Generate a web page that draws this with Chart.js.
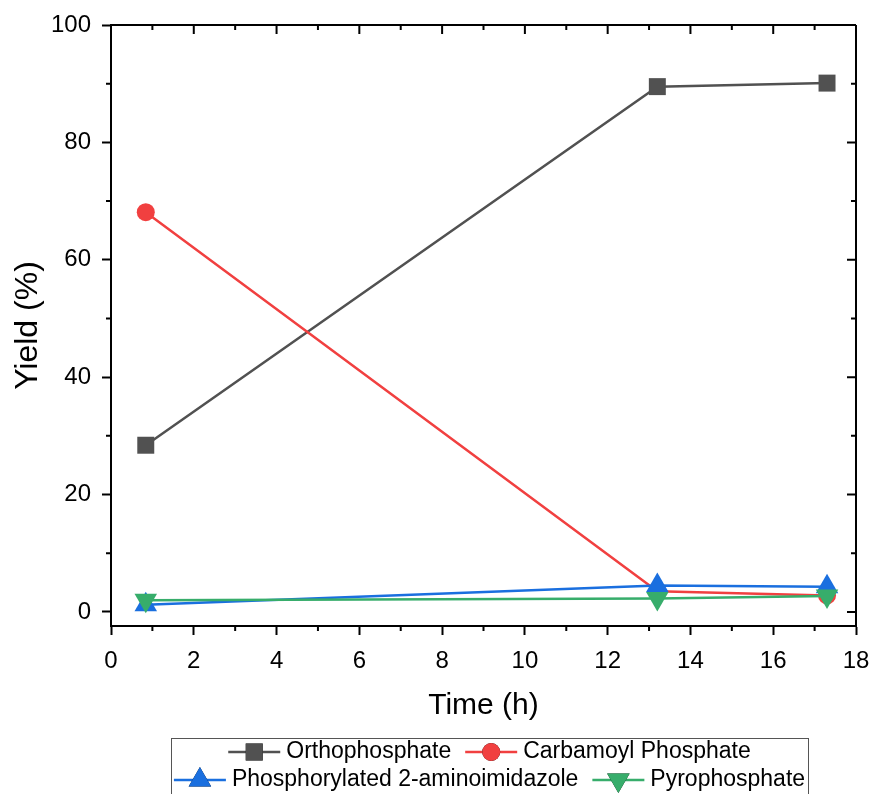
<!DOCTYPE html>
<html>
<head>
<meta charset="utf-8">
<script src="https://cdn.jsdelivr.net/npm/chart.js@4.4.1/dist/chart.umd.min.js"></script>
<style>
  html, body { margin: 0; padding: 0; background: #fff; }
  #wrap { width: 875px; height: 794px; position: relative; }
</style>
</head>
<body>
<div id="wrap"><canvas id="chart" width="875" height="794"></canvas></div>
<script>
// values
const timeH = [0.84, 13.2, 17.3];
const orthophosphate = [28.4, 89.5, 90.1];
const carbamoylPhosphate = [68.1, 3.5, 2.8];
const phosphorylatedAmi = [1.2, 4.5, 4.3];
const pyrophosphate = [2.0, 2.3, 2.7];

const seriesNames = ['Orthophosphate', 'Carbamoyl Phosphate', 'Phosphorylated 2-aminoimidazole', 'Pyrophosphate'];
const xTicks = [0, 2, 4, 6, 8, 10, 12, 14, 16, 18];
const yTicks = [0, 20, 40, 60, 80, 100];

const FONT = "'Liberation Sans', Arial, sans-serif";
const colors = ['#515151', '#F14040', '#1A6FDF', '#37AD6B'];

function pts(ys) {
  return timeH.map((x, i) => ({ x, y: ys[i] }));
}

// minor ticks, mirrored ticks on top/right, closing frame
const framePlugin = {
  id: 'frame',
  afterDraw(chart) {
    const { ctx, chartArea: a, scales } = chart;
    const xs = scales.x, ys = scales.y;
    ctx.save();
    ctx.strokeStyle = '#000';
    ctx.lineWidth = 2;
    ctx.beginPath();
    ctx.moveTo(a.left, a.top); ctx.lineTo(a.right, a.top);
    ctx.moveTo(a.right, a.top); ctx.lineTo(a.right, a.bottom);
    for (let v = 1; v < 18; v += 2) {
      const px = xs.getPixelForValue(v);
      ctx.moveTo(px, a.bottom); ctx.lineTo(px, a.bottom + 5);
      ctx.moveTo(px, a.top); ctx.lineTo(px, a.top + 5);
    }
    for (let v = 2; v < 18; v += 2) {
      const px = xs.getPixelForValue(v);
      ctx.moveTo(px, a.top); ctx.lineTo(px, a.top + 9);
    }
    for (let v = 10; v < 100; v += 20) {
      const py = ys.getPixelForValue(v);
      ctx.moveTo(a.left - 5, py); ctx.lineTo(a.left, py);
      ctx.moveTo(a.right, py); ctx.lineTo(a.right - 5, py);
    }
    for (let v = 0; v < 100; v += 20) {
      const py = ys.getPixelForValue(v);
      ctx.moveTo(a.right, py); ctx.lineTo(a.right - 9, py);
    }
    ctx.stroke();
    ctx.restore();
  }
};

// Origin-style legend: line sample with marker, two rows, boxed
const legendPlugin = {
  id: 'originLegend',
  afterDraw(chart) {
    const { ctx } = chart;
    const rows = [[0, 1], [2, 3]];
    const boxL = 171, boxR = 808, boxT = 738, boxB = 800;
    const cx = (boxL + boxR) / 2;
    const sample = 52, gapText = 6, gapItem = 14;
    ctx.save();
    ctx.strokeStyle = '#555';
    ctx.lineWidth = 1;
    ctx.strokeRect(boxL + 0.5, boxT + 0.5, boxR - boxL, boxB - boxT);
    ctx.font = '23px ' + FONT;
    ctx.textBaseline = 'middle';
    rows.forEach((row, r) => {
      const y = 752 + r * 28;
      const widths = row.map(i => sample + gapText + ctx.measureText(seriesNames[i]).width);
      const total = widths.reduce((s, w) => s + w, 0) + gapItem * (row.length - 1);
      let x = cx - total / 2;
      row.forEach((i, k) => {
        const ds = chart.data.datasets[i];
        ctx.strokeStyle = ds.borderColor;
        ctx.lineWidth = 2.5;
        ctx.beginPath();
        ctx.moveTo(x, y); ctx.lineTo(x + sample, y);
        ctx.stroke();
        Chart.helpers.drawPoint(ctx, {
          pointStyle: ds.pointStyle,
          rotation: ds.pointRotation || 0,
          radius: ds.pointRadius,
          borderWidth: 0
        }, x + sample / 2, y);
        ctx.fillStyle = ds.pointBackgroundColor;
        ctx.fill();
        ctx.fillStyle = '#000';
        ctx.fillText(seriesNames[i], x + sample + gapText, y);
        x += widths[k] + gapItem;
      });
    });
    ctx.restore();
  }
};

function ds(i, data, style, radius, rotation, order) {
  return {
    label: seriesNames[i],
    data: pts(data),
    borderColor: colors[i],
    backgroundColor: colors[i],
    pointBackgroundColor: colors[i],
    pointBorderColor: colors[i],
    pointBorderWidth: 0,
    borderWidth: 2.5,
    pointStyle: style,
    pointRadius: radius,
    pointRotation: rotation,
    pointHoverRadius: radius,
    tension: 0,
    order
  };
}

new Chart(document.getElementById('chart'), {
  type: 'line',
  data: {
    datasets: [
      ds(0, orthophosphate, 'rect', 12, 0, 4),
      ds(1, carbamoylPhosphate, 'circle', 9, 0, 3),
      ds(2, phosphorylatedAmi, 'triangle', 13, 0, 2),
      ds(3, pyrophosphate, 'triangle', 13, 180, 1)
    ]
  },
  options: {
    responsive: false,
    animation: false,
    events: [],
    layout: { padding: { left: 0, right: 19, top: 25, bottom: 64 } },
    plugins: { legend: { display: false }, tooltip: { enabled: false } },
    scales: {
      x: {
        type: 'linear',
        min: 0,
        max: 18,
        afterFit: s => { s.height = 104; s.paddingLeft = 0; s.paddingRight = 0; },
        afterBuildTicks: s => { s.ticks = xTicks.map(v => ({ value: v })); },
        border: { display: true, color: '#000', width: 2 },
        grid: { drawOnChartArea: false, tickLength: 9, tickWidth: 2, tickColor: '#000' },
        ticks: { color: '#000', padding: 12, maxRotation: 0, font: { family: FONT, size: 24 } },
        title: {
          display: true, text: 'Time (h)', color: '#000',
          font: { family: FONT, size: 30 }, padding: { top: 0, bottom: 6 }
        }
      },
      y: {
        type: 'linear',
        min: -2.4,
        max: 100,
        afterFit: s => { s.width = 111; s.paddingTop = 0; s.paddingBottom = 0; },
        afterBuildTicks: s => { s.ticks = yTicks.map(v => ({ value: v })); },
        border: { display: true, color: '#000', width: 2 },
        grid: { drawOnChartArea: false, tickLength: 9, tickWidth: 2, tickColor: '#000' },
        ticks: { color: '#000', padding: 11, font: { family: FONT, size: 24 } },
        title: {
          display: true, text: 'Yield (%)', color: '#000',
          font: { family: FONT, size: 32 }, padding: { top: 9, bottom: 0 }
        }
      }
    }
  },
  plugins: [framePlugin, legendPlugin]
});
</script>
</body>
</html>
